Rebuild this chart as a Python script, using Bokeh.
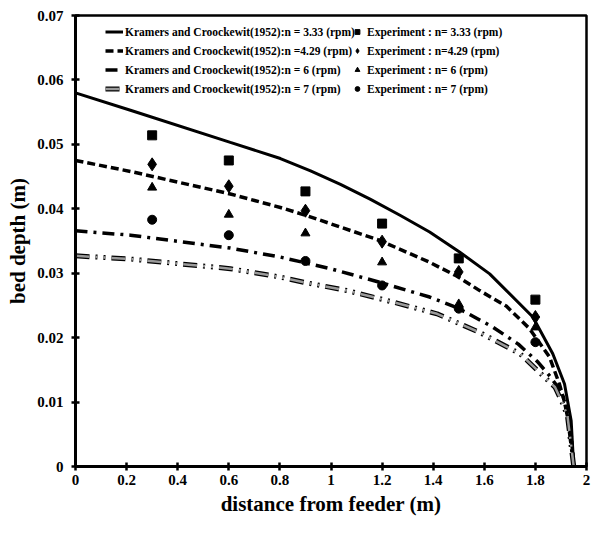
from bokeh.plotting import figure
from bokeh.models import Legend, LegendItem, FixedTicker, CustomJSTickFormatter, Range1d
from bokeh.embed import file_html
from bokeh.resources import INLINE

# ---------------- data ----------------
x_ticks = [0, 0.2, 0.4, 0.6, 0.8, 1.0, 1.2, 1.4, 1.6, 1.8, 2.0]
y_ticks = [0, 0.01, 0.02, 0.03, 0.04, 0.05, 0.06, 0.07]

# Kramers and Croockewit (1952) model curves
k333_x = [0, 0.215, 0.606, 0.802, 0.92, 1.037, 1.153, 1.27, 1.386, 1.503, 1.621, 1.79, 1.868, 1.914, 1.94, 1.95]
k333_y = [0.058, 0.0553, 0.0503, 0.0478, 0.0459, 0.0438, 0.0415, 0.039, 0.0364, 0.0333, 0.0299, 0.0232, 0.0175, 0.0128, 0.0071, 0.0]

k429_x = [0, 0.215, 0.606, 0.802, 0.9, 1.19, 1.386, 1.49, 1.582, 1.686, 1.777, 1.855, 1.894, 1.92, 1.94, 1.95]
k429_y = [0.0475, 0.0458, 0.0423, 0.0402, 0.039, 0.0351, 0.0317, 0.0296, 0.0273, 0.0249, 0.0214, 0.017, 0.0128, 0.0092, 0.005, 0.0]

k6_x = [0, 0.215, 0.606, 0.802, 0.998, 1.19, 1.386, 1.49, 1.543, 1.635, 1.733, 1.81, 1.855, 1.907, 1.926, 1.95]
k6_y = [0.0366, 0.0359, 0.0339, 0.0325, 0.0307, 0.0286, 0.0263, 0.0247, 0.0236, 0.0216, 0.019, 0.0162, 0.0141, 0.0113, 0.0077, 0.0]

k7_x = [0, 0.215, 0.606, 0.802, 0.893, 1.063, 1.245, 1.415, 1.582, 1.74, 1.877, 1.91, 1.926, 1.95]
k7_y = [0.0327, 0.0322, 0.0307, 0.0294, 0.0286, 0.0273, 0.0255, 0.0237, 0.0208, 0.0175, 0.0123, 0.0095, 0.0077, 0.0]

# Experiments
exp_x = [0.3, 0.6, 0.9, 1.2, 1.5, 1.8]
exp333 = [0.0514, 0.0475, 0.0427, 0.0377, 0.0323, 0.0259]
exp429 = [0.0469, 0.0435, 0.0397, 0.0349, 0.0302, 0.0232]
exp6 = [0.0433, 0.0391, 0.0362, 0.0317, 0.0252, 0.0216]
exp7 = [0.0383, 0.0359, 0.0319, 0.0281, 0.0245, 0.0193]

model_labels = [
    "Kramers and Croockewit(1952):n = 3.33 (rpm)",
    "Kramers and Croockewit(1952):n =4.29 (rpm)",
    "Kramers and Croockewit(1952):n = 6 (rpm)",
    "Kramers and Croockewit(1952):n = 7 (rpm)",
]
exp_labels = [
    "Experiment : n= 3.33 (rpm)",
    "Experiment : n=4.29 (rpm)",
    "Experiment : n= 6 (rpm)",
    "Experiment : n= 7 (rpm)",
]

FONT = "Liberation Serif"

p = figure(width=595, height=537, output_backend="svg", toolbar_location=None,
           x_range=Range1d(0, 2), y_range=Range1d(0, 0.07),
           min_border_left=75, min_border_right=9, min_border_top=15, min_border_bottom=71)
p.grid.visible = False
p.background_fill_color = "white"
p.border_fill_color = "white"
p.outline_line_color = "black"
p.outline_line_width = 2.5

# model curves
r1 = p.line(k333_x, k333_y, line_color="black", line_width=3)
r2 = p.line(k429_x, k429_y, line_color="black", line_width=3.5, line_dash="8 4")
r3 = p.line(k6_x, k6_y, line_color="black", line_width=3.5, line_dash="12 6 3 6")
r4a = p.line(k7_x, k7_y, line_color="black", line_width=5, line_dash="14 6 2 6 2 6")
r4b = p.line(k7_x, k7_y, line_color="#9a9a9a", line_width=2.5, line_dash="14 6 2 6 2 6")

# experiments
m1 = p.scatter(exp_x, exp333, marker="square", size=9, color="black")
m2 = p.scatter(exp_x, exp429, marker="diamond", size=13, color="black")
m3 = p.scatter(exp_x, exp6, marker="triangle", size=9, color="black")
m4 = p.scatter(exp_x, exp7, marker="circle", size=9, color="black")

# axes
for ax in (p.xaxis[0], p.yaxis[0]):
    ax.axis_line_width = 3
    ax.axis_line_color = "black"
    ax.major_tick_line_width = 2.5
    ax.major_tick_line_color = "black"
    ax.major_tick_in = 4
    ax.major_tick_out = 4
    ax.minor_tick_line_color = None
    ax.major_label_text_font = FONT
    ax.major_label_text_font_style = "bold"
    ax.major_label_text_font_size = "15px"
    ax.major_label_text_color = "black"
    ax.axis_label_text_font = FONT
    ax.axis_label_text_font_style = "bold"
    ax.axis_label_text_font_size = "21px"
    ax.axis_label_text_color = "black"

p.xaxis.ticker = FixedTicker(ticks=x_ticks)
p.yaxis.ticker = FixedTicker(ticks=y_ticks)
p.xaxis.formatter = CustomJSTickFormatter(code="return String(Number(tick.toFixed(1)));")
p.yaxis.formatter = CustomJSTickFormatter(code="return tick == 0 ? '0' : tick.toFixed(2);")
p.xaxis.axis_label = "distance from feeder (m)"
p.yaxis.axis_label = "bed depth (m)"
p.xaxis.major_label_standoff = 4
p.xaxis.axis_label_standoff = 4
p.yaxis.major_label_standoff = 8
p.yaxis.axis_label_standoff = 4

def make_legend(items, x, y, gw, standoff):
    lg = Legend(items=items, location=(x, y), orientation="vertical")
    lg.border_line_color = None
    lg.background_fill_alpha = 0
    lg.padding = 0
    lg.margin = 0
    lg.spacing = 0
    lg.glyph_width = gw
    lg.glyph_height = 19
    lg.label_height = 19
    lg.label_standoff = standoff
    lg.label_text_font = FONT
    lg.label_text_font_style = "bold"
    lg.label_text_font_size = "11.5px"
    lg.label_text_color = "black"
    return lg

leg1 = make_legend([
    LegendItem(label=model_labels[0], renderers=[r1]),
    LegendItem(label=model_labels[1], renderers=[r2]),
    LegendItem(label=model_labels[2], renderers=[r3]),
    LegendItem(label=model_labels[3], renderers=[r4a, r4b]),
], 30, 368, 18, 2)
leg2 = make_legend([
    LegendItem(label=exp_labels[0], renderers=[m1]),
    LegendItem(label=exp_labels[1], renderers=[m2]),
    LegendItem(label=exp_labels[2], renderers=[m3]),
    LegendItem(label=exp_labels[3], renderers=[m4]),
], 276, 368, 12, 4)
p.add_layout(leg1, "center")
p.add_layout(leg2, "center")

open("out.html", "w").write(file_html(p, INLINE))
